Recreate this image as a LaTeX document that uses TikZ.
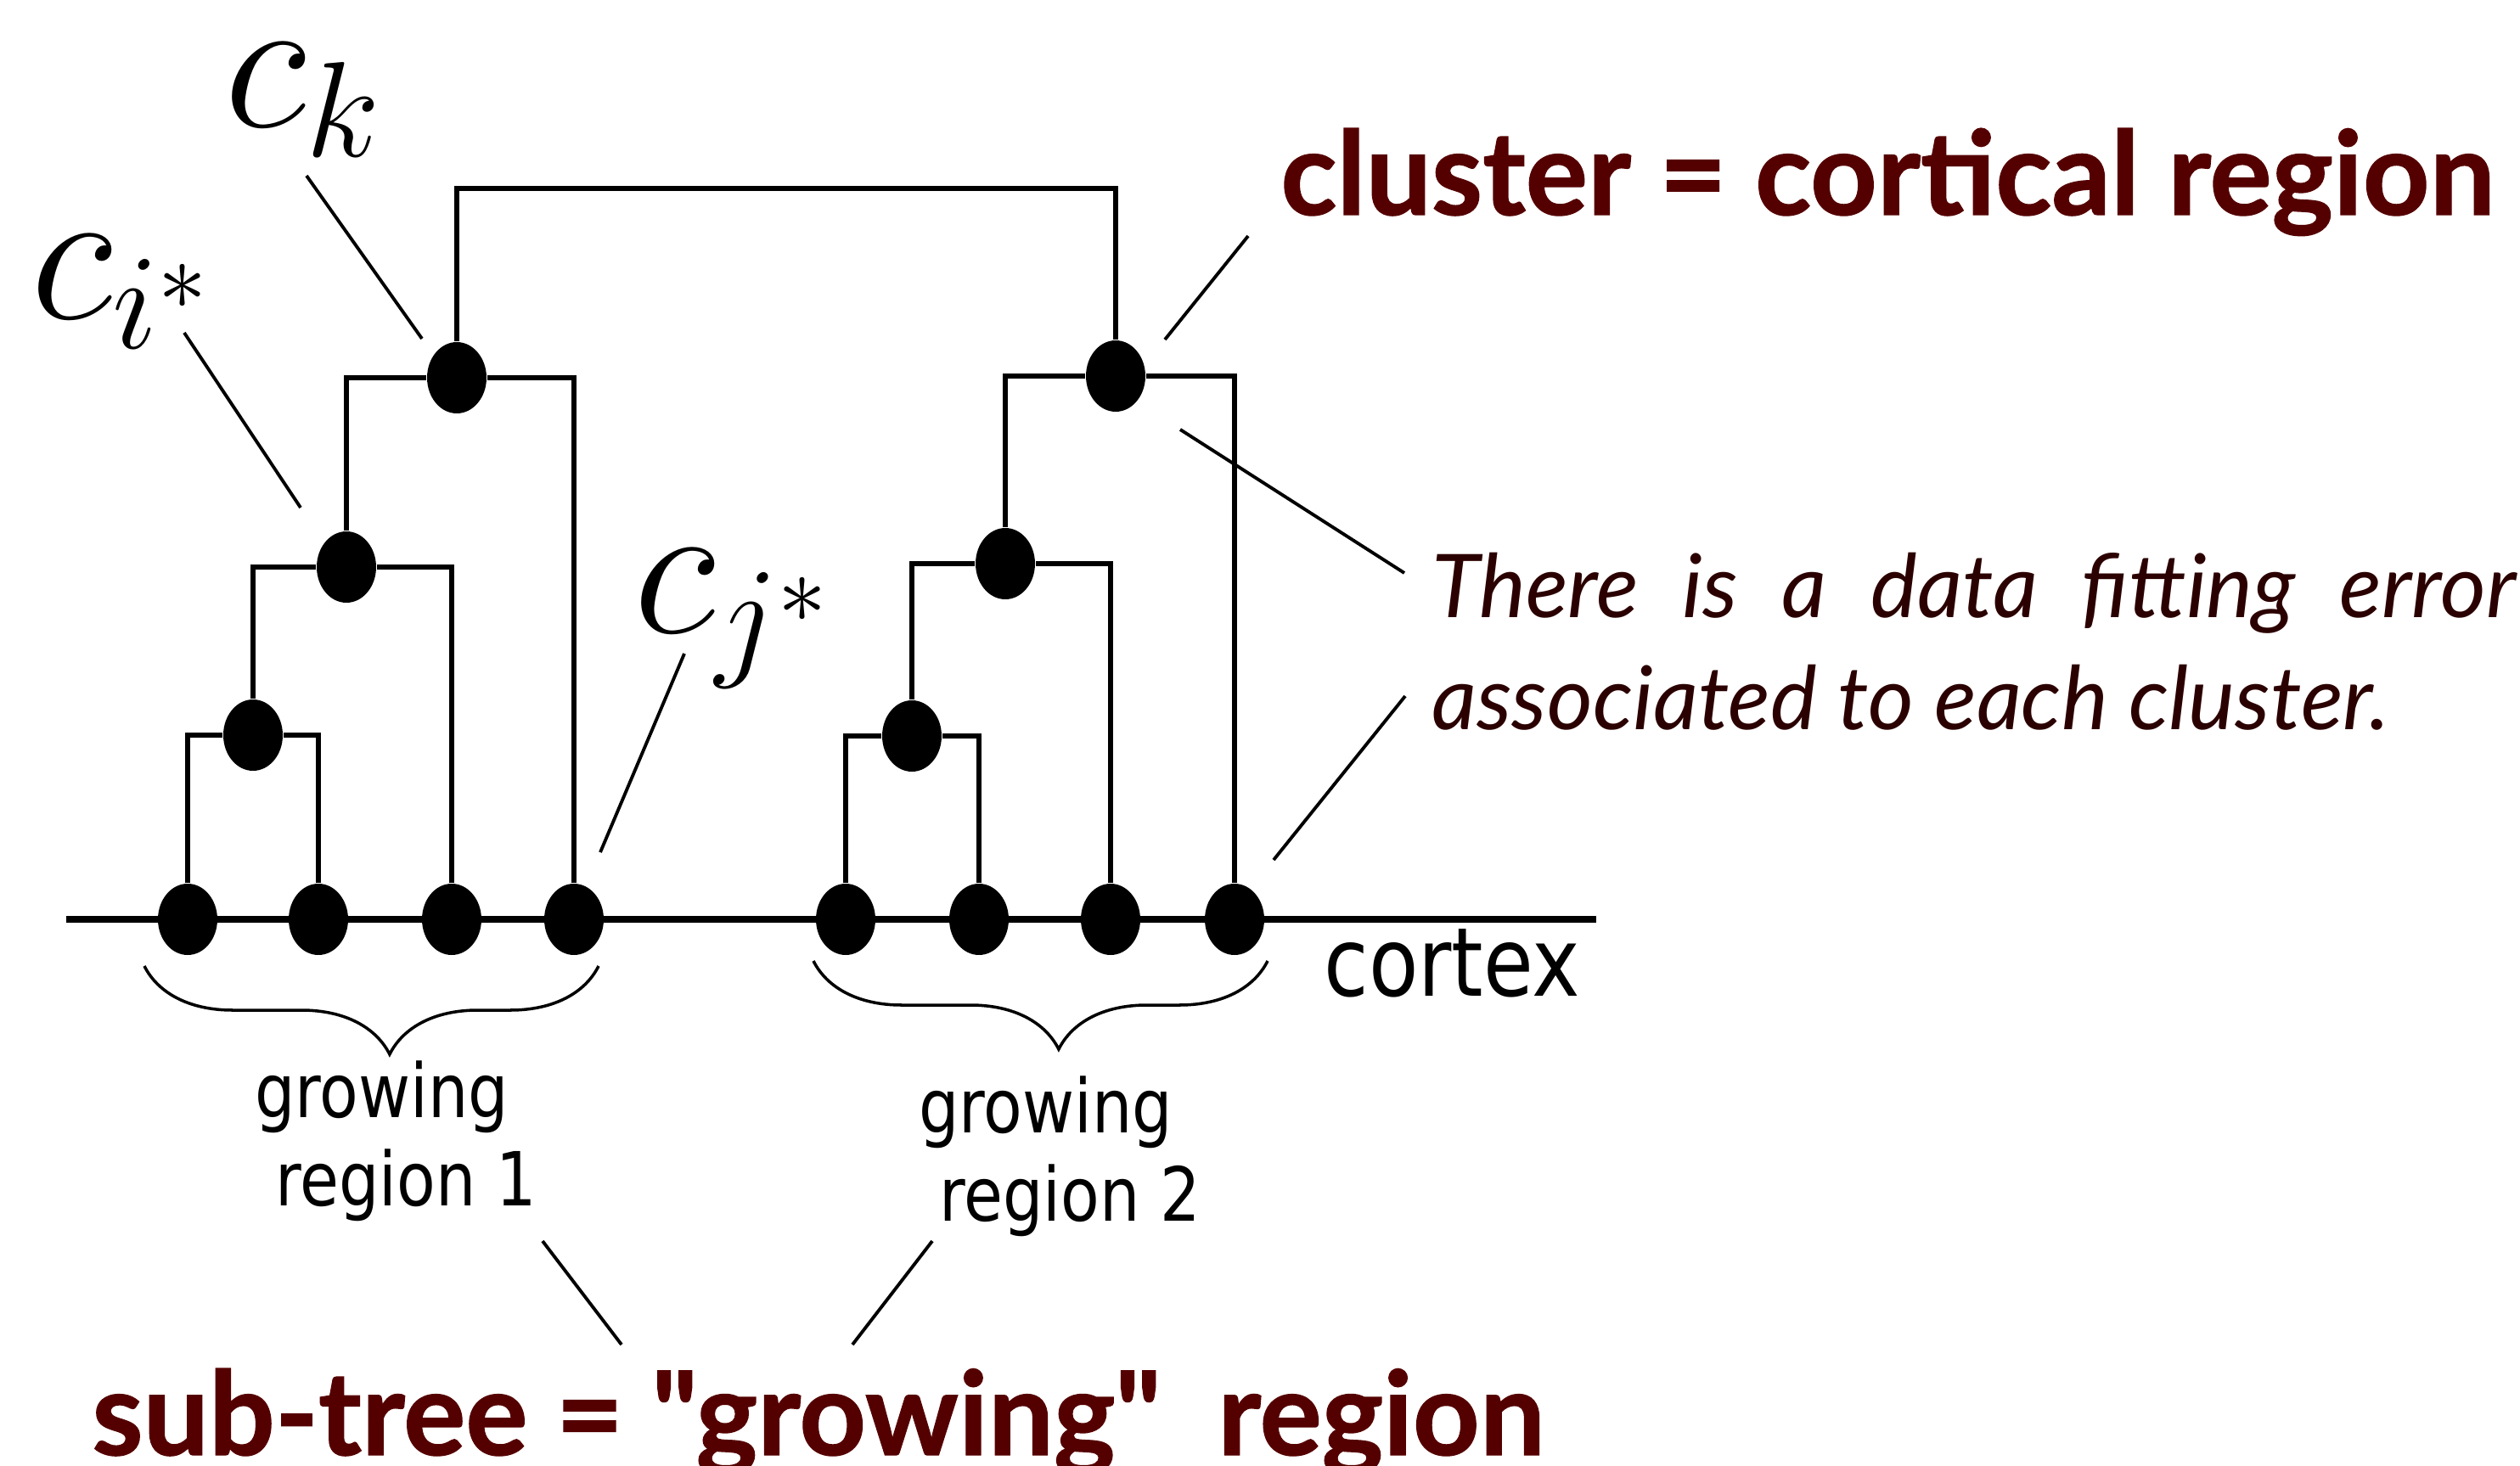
\RequirePackage{fix-cm}
\documentclass[tikz,border=0pt]{standalone}
\usepackage{amsmath}
\usepackage{fontspec}
\setmainfont{Lato}
\newfontfamily\headfont{Lato}[Ligatures=TeXOff,FakeBold=1]
\newfontfamily\dvsans{DejaVu Sans}[FakeStretch=0.85]
\usepackage{tikz}
\usetikzlibrary{arrows,shapes,positioning,decorations.pathreplacing}
\definecolor{darkred}{HTML}{550000}
\definecolor{darkbrown}{HTML}{2B0000}

\begin{document}
\begin{tikzpicture}[thick,
	main node/.style={ellipse,fill=black,inner sep=0pt,minimum width=0.7cm,minimum height=0.84cm},
	branch/.style={line width=1.8pt},
	leader/.style={line width=1.1pt},
	brc/.style={decorate,decoration={brace,mirror,amplitude=1.04cm,aspect=0.54},line width=1pt},
	mathlab/.style={inner sep=0pt,font=\fontsize{65}{78}\selectfont},
	headline/.style={inner sep=0pt,text=darkred,font=\fontsize{39}{47}\selectfont\headfont\bfseries},
	regtext/.style={inner sep=0pt,align=left,font=\fontsize{25}{29.5}\selectfont\dvsans}]

	\useasboundingbox (0,0) rectangle (29.68,-17.27);

	% cortex
	\coordinate (c0) at (0.78,-10.83);
	\coordinate (c1) at (18.80,-10.83);
	\draw[line width=2.3pt] (c0) -- (c1);

	% leaves
	\node[main node] (1) at (2.21,-10.83) {};
	\node[main node] (2) at (3.75,-10.83) {};
	\node[main node] (3) at (5.32,-10.83) {};
	\node[main node] (4) at (6.76,-10.83) {};
	\node[main node] (5) at (9.96,-10.83) {};
	\node[main node] (6) at (11.53,-10.83) {};
	\node[main node] (7) at (13.08,-10.83) {};
	\node[main node] (8) at (14.54,-10.83) {};

	% clusters
	\node[main node] (9) at (2.98,-8.66) {};
	\node[main node] (10) at (4.08,-6.68) {};
	\node[main node] (11) at (5.38,-4.45) {};
	\node[main node] (12) at (10.74,-8.67) {};
	\node[main node] (13) at (11.84,-6.64) {};
	\node[main node] (14) at (13.14,-4.43) {};

	\draw[branch] (1) |- (9) -| (2);
	\draw[branch] (9) |- (10) -| (3);
	\draw[branch] (10) |- (11) -| (4);
	\draw[branch] (5) |- (12) -| (6);
	\draw[branch] (12) |- (13) -| (7);
	\draw[branch] (13) |- (14) -| (8);
	\coordinate (top) at (0,-2.22);
	\draw[branch] (11) -- (11 |- top) -| (14);

	\node[mathlab,anchor=base west] (ck) at (2.63,-1.50) {$c_k$};
	\node[mathlab,anchor=base west] (ci) at (0.35,-3.76) {$c_{i^*}$};
	\node[mathlab,anchor=base west] (cj) at (7.45,-7.45) {$c_{j^*}$};

	\node[headline,anchor=base west] (clus) at (15.07,-2.53) {cluster = cortical region};
	\node[headline,anchor=base west] (sub) at (1.07,-17.14) {sub-tree = "growing"\ \ region};
	% base of a two-line node is its last line
	\node[anchor=base west,inner sep=0pt,align=left,text=darkbrown,
		font=\fontsize{29.5}{37.5}\selectfont\itshape] (err) at (16.85,-8.59)
		{\makebox[12.77cm][s]{There is a data fitt\kern0pt ing error}\\associated to each cluster.};
	\node[anchor=base west,inner sep=0pt,font=\fontsize{32}{38}\selectfont\dvsans] (ctx) at (15.58,-11.73) {cortex};

	% braces
	\coordinate (b1) at (1.70,-11.38);
	\coordinate (b2) at (7.05,-11.38);
	\coordinate (b3) at (9.58,-11.32);
	\coordinate (b4) at (14.93,-11.32);
	\draw[brc] (b1) -- (b2);
	\draw[brc] (b3) -- (b4);
	\node[regtext,anchor=base west] (gr1) at (2.99,-14.20) {growing\\\ region 1};
	\node[regtext,anchor=base west] (gr2) at (10.81,-14.38) {growing\\\ region 2};

	% pointer lines
	\coordinate (p1) at (3.61,-2.07);
	\coordinate (q1) at (4.97,-3.99);
	\coordinate (p2) at (2.17,-3.92);
	\coordinate (q2) at (3.54,-5.98);
	\coordinate (p3) at (8.06,-7.70);
	\coordinate (q3) at (7.07,-10.04);
	\coordinate (p4) at (14.70,-2.78);
	\coordinate (q4) at (13.72,-4.00);
	\coordinate (p5) at (16.54,-6.75);
	\coordinate (q5) at (13.90,-5.06);
	\coordinate (p6) at (16.55,-8.20);
	\coordinate (q6) at (15.00,-10.13);
	\coordinate (p7) at (6.39,-14.62);
	\coordinate (q7) at (7.32,-15.84);
	\coordinate (p8) at (10.98,-14.62);
	\coordinate (q8) at (10.04,-15.84);
	\draw[leader] (p1) -- (q1);
	\draw[leader] (p2) -- (q2);
	\draw[leader] (p3) -- (q3);
	\draw[leader] (p4) -- (q4);
	\draw[leader] (p5) -- (q5);
	\draw[leader] (p6) -- (q6);
	\draw[leader] (p7) -- (q7);
	\draw[leader] (p8) -- (q8);

\end{tikzpicture}
\end{document}
